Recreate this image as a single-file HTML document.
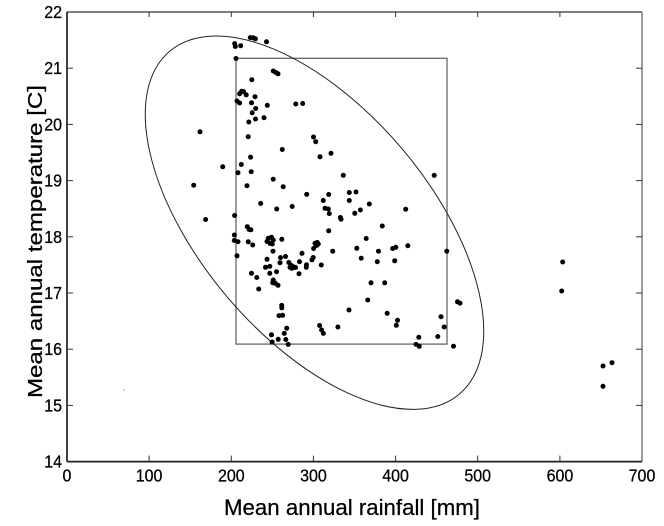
<!DOCTYPE html>
<html><head><meta charset="utf-8"><style>
html,body{margin:0;padding:0;background:#fff;}
svg{display:block;}
text{font-family:"Liberation Sans",Arial,sans-serif;fill:#000;stroke:#000;stroke-width:0.25;}
</style></head><body>
<svg width="664" height="526" viewBox="0 0 664 526" xmlns="http://www.w3.org/2000/svg">
<rect width="664" height="526" fill="#fff"/>
<!-- axes box -->
<line x1="67" y1="12" x2="642" y2="12" stroke="#333" stroke-width="1.2"/>
<line x1="642" y1="12" x2="642" y2="461.6" stroke="#666" stroke-width="1.3"/>
<line x1="67" y1="461.6" x2="642" y2="461.6" stroke="#222" stroke-width="1.7"/>
<line x1="67" y1="12" x2="67" y2="461.6" stroke="#222" stroke-width="1.7"/>
<!-- x ticks -->
<g stroke="#333" stroke-width="1">
<line x1="149.1" y1="461.6" x2="149.1" y2="455.6"/><line x1="149.1" y1="12" x2="149.1" y2="17"/>
<line x1="231.3" y1="461.6" x2="231.3" y2="455.6"/><line x1="231.3" y1="12" x2="231.3" y2="17"/>
<line x1="313.4" y1="461.6" x2="313.4" y2="455.6"/><line x1="313.4" y1="12" x2="313.4" y2="17"/>
<line x1="395.6" y1="461.6" x2="395.6" y2="455.6"/><line x1="395.6" y1="12" x2="395.6" y2="17"/>
<line x1="477.7" y1="461.6" x2="477.7" y2="455.6"/><line x1="477.7" y1="12" x2="477.7" y2="17"/>
<line x1="559.9" y1="461.6" x2="559.9" y2="455.6"/><line x1="559.9" y1="12" x2="559.9" y2="17"/>
<!-- y ticks -->
<line x1="67" y1="68.2" x2="73" y2="68.2"/><line x1="642" y1="68.2" x2="636" y2="68.2"/>
<line x1="67" y1="124.4" x2="73" y2="124.4"/><line x1="642" y1="124.4" x2="636" y2="124.4"/>
<line x1="67" y1="180.6" x2="73" y2="180.6"/><line x1="642" y1="180.6" x2="636" y2="180.6"/>
<line x1="67" y1="236.8" x2="73" y2="236.8"/><line x1="642" y1="236.8" x2="636" y2="236.8"/>
<line x1="67" y1="293" x2="73" y2="293"/><line x1="642" y1="293" x2="636" y2="293"/>
<line x1="67" y1="349.2" x2="73" y2="349.2"/><line x1="642" y1="349.2" x2="636" y2="349.2"/>
<line x1="67" y1="405.4" x2="73" y2="405.4"/><line x1="642" y1="405.4" x2="636" y2="405.4"/>
</g>
<!-- y tick labels -->
<g font-size="16" text-anchor="end">
<text transform="translate(62,18) scale(1,1.08)">22</text>
<text transform="translate(62,74.2) scale(1,1.08)">21</text>
<text transform="translate(62,130.4) scale(1,1.08)">20</text>
<text transform="translate(62,186.6) scale(1,1.08)">19</text>
<text transform="translate(62,242.8) scale(1,1.08)">18</text>
<text transform="translate(62,299) scale(1,1.08)">17</text>
<text transform="translate(62,355.2) scale(1,1.08)">16</text>
<text transform="translate(62,411.4) scale(1,1.08)">15</text>
<text transform="translate(62,467.4) scale(1,1.08)">14</text>
</g>
<!-- x tick labels -->
<g font-size="16" text-anchor="middle">
<text transform="translate(67,481.5) scale(1,1.08)">0</text>
<text transform="translate(149.1,481.5) scale(1,1.08)">100</text>
<text transform="translate(231.3,481.5) scale(1,1.08)">200</text>
<text transform="translate(313.4,481.5) scale(1,1.08)">300</text>
<text transform="translate(395.6,481.5) scale(1,1.08)">400</text>
<text transform="translate(477.7,481.5) scale(1,1.08)">500</text>
<text transform="translate(559.9,481.5) scale(1,1.08)">600</text>
<text transform="translate(642,481.5) scale(1,1.08)">700</text>
</g>
<!-- axis labels -->
<text x="224" y="515" font-size="22" textLength="256" lengthAdjust="spacingAndGlyphs">Mean annual rainfall [mm]</text>
<text transform="translate(42,241.5) rotate(-90)" font-size="20" text-anchor="middle" textLength="313" lengthAdjust="spacingAndGlyphs">Mean annual temperature [C]</text>
<!-- rectangle -->
<rect x="236" y="58.3" width="211" height="285.8" fill="none" stroke="#666" stroke-width="1.3"/>
<!-- ellipse -->
<ellipse cx="314.5" cy="222.7" rx="224.4" ry="114.6" transform="rotate(49.8 314.5 222.7)" fill="none" stroke="#222" stroke-width="1"/>
<!-- speck -->
<circle cx="124" cy="390" r="0.6" fill="#777"/>
<!-- dots -->
<g fill="#000">
<circle cx="250.3" cy="37.6" r="2.5"/><circle cx="253.2" cy="37.8" r="2.5"/><circle cx="255.4" cy="38.8" r="2.5"/>
<circle cx="266.5" cy="41.8" r="2.5"/><circle cx="234.7" cy="43.6" r="2.5"/><circle cx="235.3" cy="46.5" r="2.5"/>
<circle cx="240.7" cy="45.7" r="2.5"/><circle cx="236" cy="58.5" r="2.5"/>
<circle cx="273.3" cy="71" r="2.5"/><circle cx="275.8" cy="72.5" r="2.5"/><circle cx="278" cy="73.8" r="2.5"/>
<circle cx="251.8" cy="79.7" r="2.5"/>
<circle cx="241.7" cy="91.2" r="2.5"/><circle cx="243.5" cy="91.6" r="2.5"/><circle cx="239.6" cy="93.8" r="2.5"/>
<circle cx="246.2" cy="94.8" r="2.5"/><circle cx="255" cy="96.7" r="2.5"/><circle cx="237" cy="101" r="2.5"/>
<circle cx="239.6" cy="103" r="2.5"/><circle cx="251.5" cy="102.8" r="2.5"/><circle cx="267.3" cy="105.3" r="2.5"/>
<circle cx="255.7" cy="108.5" r="2.5"/><circle cx="252.2" cy="112.8" r="2.5"/><circle cx="264" cy="117.7" r="2.5"/>
<circle cx="255.5" cy="119" r="2.5"/><circle cx="248.8" cy="122" r="2.5"/>
<circle cx="295.8" cy="104" r="2.5"/><circle cx="302.7" cy="103.5" r="2.5"/>
<circle cx="200" cy="131.8" r="2.5"/><circle cx="248.2" cy="136.7" r="2.5"/><circle cx="313.5" cy="137" r="2.5"/>
<circle cx="315.7" cy="141.7" r="2.5"/><circle cx="282.3" cy="149.5" r="2.5"/><circle cx="331" cy="153.3" r="2.5"/>
<circle cx="320" cy="156.8" r="2.5"/><circle cx="250.6" cy="157.2" r="2.5"/><circle cx="241.3" cy="164.5" r="2.5"/>
<circle cx="222.7" cy="166.8" r="2.5"/><circle cx="238" cy="172.7" r="2.5"/><circle cx="251.2" cy="171.7" r="2.5"/>
<circle cx="343.3" cy="175.3" r="2.5"/><circle cx="434.2" cy="175.4" r="2.5"/><circle cx="273.2" cy="179.2" r="2.5"/>
<circle cx="193.7" cy="185.2" r="2.5"/><circle cx="247" cy="185.7" r="2.5"/><circle cx="283.2" cy="186.7" r="2.5"/>
<circle cx="306.7" cy="194.4" r="2.5"/><circle cx="328.7" cy="194.5" r="2.5"/><circle cx="323.3" cy="200.5" r="2.5"/>
<circle cx="349.3" cy="192.5" r="2.5"/><circle cx="356" cy="192" r="2.5"/><circle cx="349.3" cy="200.5" r="2.5"/>
<circle cx="260.7" cy="203.5" r="2.5"/><circle cx="292.2" cy="206.5" r="2.5"/><circle cx="276.7" cy="209" r="2.5"/>
<circle cx="325" cy="208.3" r="2.5"/><circle cx="328.3" cy="209" r="2.5"/><circle cx="329.3" cy="213.6" r="2.5"/>
<circle cx="340.4" cy="217.5" r="2.5"/><circle cx="341" cy="219.2" r="2.5"/><circle cx="234.6" cy="215.5" r="2.5"/>
<circle cx="205.6" cy="219.5" r="2.5"/>
<circle cx="369.3" cy="204" r="2.5"/><circle cx="360.4" cy="210" r="2.5"/><circle cx="354.8" cy="213.3" r="2.5"/>
<circle cx="405.7" cy="209.2" r="2.5"/><circle cx="382.3" cy="226" r="2.5"/>
<circle cx="247.3" cy="226.7" r="2.5"/><circle cx="249.2" cy="229.5" r="2.5"/><circle cx="250.9" cy="229.8" r="2.5"/>
<circle cx="328.7" cy="230.8" r="2.5"/>
<circle cx="234.4" cy="235" r="2.5"/><circle cx="234.3" cy="240.5" r="2.5"/><circle cx="238" cy="241.7" r="2.5"/>
<circle cx="248.3" cy="241.8" r="2.5"/><circle cx="252.7" cy="245" r="2.5"/>
<circle cx="268.3" cy="238.3" r="2.5"/><circle cx="271.5" cy="237.3" r="2.5"/><circle cx="273.3" cy="240" r="2.5"/>
<circle cx="270" cy="243.3" r="2.5"/><circle cx="272.3" cy="244" r="2.5"/><circle cx="267" cy="241.5" r="2.5"/>
<circle cx="281.8" cy="239.3" r="2.5"/>
<circle cx="315" cy="243.3" r="2.5"/><circle cx="317.3" cy="242.5" r="2.5"/><circle cx="316.5" cy="245.5" r="2.5"/>
<circle cx="313.6" cy="248.5" r="2.5"/><circle cx="318.3" cy="244" r="2.5"/>
<circle cx="332.7" cy="251.2" r="2.5"/><circle cx="273" cy="251.2" r="2.5"/><circle cx="237" cy="255.8" r="2.5"/>
<circle cx="302" cy="253.3" r="2.5"/><circle cx="285.5" cy="256.5" r="2.5"/><circle cx="280.5" cy="257.6" r="2.5"/>
<circle cx="267" cy="259.3" r="2.5"/><circle cx="280" cy="262.7" r="2.5"/>
<circle cx="288.8" cy="262.5" r="2.5"/><circle cx="291" cy="265.3" r="2.5"/><circle cx="293.3" cy="266.7" r="2.5"/>
<circle cx="290" cy="267.3" r="2.5"/><circle cx="292" cy="268.3" r="2.5"/><circle cx="295.5" cy="267.5" r="2.5"/>
<circle cx="299.5" cy="261.7" r="2.5"/><circle cx="306.5" cy="264.8" r="2.5"/><circle cx="306.3" cy="267.3" r="2.5"/>
<circle cx="312" cy="259.8" r="2.5"/><circle cx="313.2" cy="257.5" r="2.5"/><circle cx="321.3" cy="265" r="2.5"/>
<circle cx="265.5" cy="267.3" r="2.5"/><circle cx="269.8" cy="266.4" r="2.5"/><circle cx="276.5" cy="271.7" r="2.5"/>
<circle cx="251.5" cy="273.3" r="2.5"/><circle cx="269.8" cy="273.3" r="2.5"/><circle cx="299" cy="273.7" r="2.5"/>
<circle cx="256.8" cy="277.5" r="2.5"/>
<circle cx="273.3" cy="280" r="2.5"/><circle cx="272.7" cy="282.7" r="2.5"/><circle cx="275.3" cy="283.3" r="2.5"/>
<circle cx="278" cy="285.3" r="2.5"/><circle cx="258.7" cy="289" r="2.5"/>
<circle cx="366.2" cy="238.5" r="2.5"/><circle cx="356.8" cy="248.3" r="2.5"/><circle cx="361.2" cy="258.2" r="2.5"/>
<circle cx="378.5" cy="251.2" r="2.5"/><circle cx="377.3" cy="261.7" r="2.5"/><circle cx="392.7" cy="248.5" r="2.5"/>
<circle cx="395.8" cy="247.3" r="2.5"/><circle cx="407.8" cy="245.7" r="2.5"/><circle cx="394.7" cy="260.8" r="2.5"/>
<circle cx="446.8" cy="251.2" r="2.5"/>
<circle cx="562.7" cy="262" r="2.5"/><circle cx="561.7" cy="291" r="2.5"/>
<circle cx="371" cy="282.8" r="2.5"/><circle cx="384.7" cy="282.8" r="2.5"/><circle cx="367.7" cy="300" r="2.5"/>
<circle cx="349" cy="310" r="2.5"/><circle cx="457.5" cy="301.8" r="2.5"/><circle cx="460" cy="303.2" r="2.5"/>
<circle cx="387.2" cy="313.3" r="2.5"/><circle cx="397.5" cy="320.3" r="2.5"/><circle cx="396.3" cy="325.3" r="2.5"/>
<circle cx="441" cy="316.7" r="2.5"/><circle cx="444.2" cy="327" r="2.5"/><circle cx="437.8" cy="336.5" r="2.5"/>
<circle cx="418.8" cy="337.3" r="2.5"/><circle cx="416" cy="344.4" r="2.5"/><circle cx="419.3" cy="346.3" r="2.5"/>
<circle cx="453.5" cy="346.2" r="2.5"/>
<circle cx="281.7" cy="305.4" r="2.5"/><circle cx="281.8" cy="307.8" r="2.5"/><circle cx="279" cy="315.6" r="2.5"/>
<circle cx="282.6" cy="315.3" r="2.5"/>
<circle cx="286.7" cy="328.2" r="2.5"/><circle cx="284.3" cy="333.4" r="2.5"/><circle cx="285.8" cy="339.5" r="2.5"/>
<circle cx="288.2" cy="344.4" r="2.5"/><circle cx="271.5" cy="334.8" r="2.5"/><circle cx="272.1" cy="342" r="2.5"/>
<circle cx="278.2" cy="339.3" r="2.5"/>
<circle cx="319.6" cy="325.5" r="2.5"/><circle cx="321.6" cy="330" r="2.5"/><circle cx="323.4" cy="333.4" r="2.5"/>
<circle cx="337.9" cy="327" r="2.5"/>
<circle cx="603" cy="366" r="2.5"/><circle cx="612" cy="362.7" r="2.5"/><circle cx="603" cy="386.3" r="2.5"/>
</g>
</svg>
</body></html>
